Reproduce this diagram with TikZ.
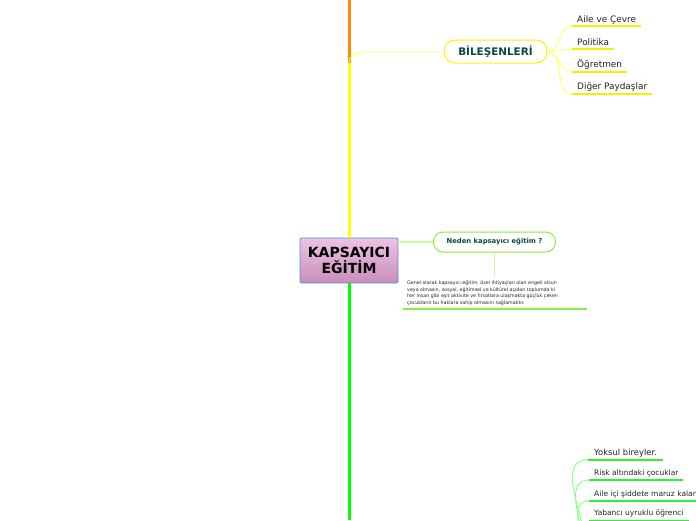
\documentclass[tikz,border=0pt]{standalone}
\usepackage{fontspec}
\setmainfont{DejaVu Sans}
\usetikzlibrary{shapes.misc}
\definecolor{trunkorange}{HTML}{FF8C00}
\definecolor{trunkyellow}{HTML}{FFFF00}
\definecolor{trunkgreen}{HTML}{00FF00}
\definecolor{ycurve}{HTML}{FFFF66}
\definecolor{yline}{HTML}{F2F200}
\definecolor{gcurve}{HTML}{88FF88}
\definecolor{gline}{HTML}{33EE33}
\definecolor{lgreen}{HTML}{CCFF99}
\definecolor{ngreen}{HTML}{88EE44}
\definecolor{dgreen}{HTML}{0B4A3A}
\definecolor{pinktop}{HTML}{EDC3E2}
\definecolor{pinkbot}{HTML}{C98EBB}
\definecolor{cblue}{HTML}{4A90D9}
\definecolor{txt}{HTML}{222222}
\tikzset{
  trunk/.style={line width=3pt},
  ycurvestyle/.style={draw=ycurve, line width=0.9pt},
  ulineY/.style={draw=yline, line width=2pt},
  gcurvestyle/.style={draw=gcurve, line width=0.9pt},
  ulineG/.style={draw=gline, line width=2pt},
  leaf/.style={anchor=base west, inner sep=0pt, text=txt, font=\fontsize{8.9}{10}\selectfont},
  gleaf/.style={anchor=base west, inner sep=0pt, text=txt, font=\fontsize{7.5}{9}\selectfont},
  central/.style={rectangle, rounded corners=1.5pt, draw=cblue, line width=0.9pt,
    top color=pinktop, bottom color=pinkbot, minimum width=98pt, minimum height=45pt,
    align=center, font=\fontsize{14}{16}\selectfont\bfseries, text=black, inner sep=0pt},
  bilbox/.style={rectangle, rounded corners=11pt, draw=yellow, line width=1pt, fill=white,
    minimum width=103pt, minimum height=23pt, font=\fontsize{10.4}{12}\selectfont\bfseries,
    text=dgreen, inner sep=0pt},
  nedenbox/.style={rectangle, rounded corners=9.5pt, draw=ngreen, line width=1pt, fill=white,
    minimum width=122pt, minimum height=20pt, font=\fontsize{6.8}{8}\selectfont\bfseries,
    text=dgreen, inner sep=0pt},
  desc/.style={anchor=north west, inner sep=0pt, align=left, text=txt,
    font=\fontsize{4.75}{6.7}\selectfont},
}
\begin{document}
\begin{tikzpicture}[x=1pt,y=-1pt]
\useasboundingbox (0,0) rectangle (696,520);
% coordinates of the trunk
\coordinate (ttop) at (349,0);
\coordinate (fork) at (349,63);
\coordinate (tbot) at (349,520);
% central node
\node[central] (c) at (349,260.5) {KAPSAYICI\\EĞİTİM};
% trunk
\draw[trunk, trunkorange] (ttop) -- (fork);
\draw[trunk, trunkyellow] (fork) -- (c.north);
\draw[trunk, trunkgreen] (c.south) -- (tbot);
% BILESENLERI
\node[bilbox] (bil) at (495.5,51.5) {BİLEŞENLERİ};
\draw[ycurvestyle] (fork) .. controls (349,55) and (356,52) .. (366,52) -- (bil.west |- 0,52);
% top leaves
\node[leaf] (a1) at (577,22.5) {Aile ve Çevre};
\node[leaf] (a2) at (577,45) {Politika};
\node[leaf] (a3) at (577,67.5) {Öğretmen};
\node[leaf] (a4) at (577,89.5) {Diğer Paydaşlar};
\coordinate (u1) at (572,26);
\coordinate (u2) at (572,49);
\coordinate (u3) at (572,71.5);
\coordinate (u4) at (572,94);
\draw[ulineY] (u1) -- ++(69,0);
\draw[ulineY] (u2) -- ++(42,0);
\draw[ulineY] (u3) -- ++(55,0);
\draw[ulineY] (u4) -- ++(80,0);
\coordinate (be) at (547,52);
\foreach \u in {u1,u2,u3,u4}
  \draw[ycurvestyle] (be) to[out=0,in=180] (\u);
% Neden
\node[nedenbox] (n) at (494.5,242) {Neden kapsayıcı eğitim ?};
\draw[draw=lgreen, line width=1.5pt] (c.east |- 0,242) -- (n.west);
\coordinate (nd) at (494.5,277);
\draw[draw=lgreen, line width=1.5pt] (n.south) -- (nd);
\node[desc] (d) at (407,280.5) {Genel olarak kapsayıcı eğitim, özel ihtiyaçları olan engeli olsun\\
veya olmasın, sosyal, eğitimsel ve kültürel açıdan toplumda ki\\
her insan gibi eşit aktivite ve fırsatlara ulaşmakta güçlük çeken\\
çocukların bu haklara sahip olmasını sağlamaktır.};
\coordinate (dl) at (403,309);
\coordinate (dr) at (587,309);
\draw[draw=ngreen, line width=1.5pt] (dl) -- (dr);
% bottom group
\node[gleaf, font=\fontsize{8.4}{10}\selectfont] (b1) at (594,455) {Yoksul bireyler.};
\node[gleaf] (b2) at (594,475.5) {Risk altındaki çocuklar};
\node[gleaf] (b3) at (594,496) {Aile içi şiddete maruz kalan};
\node[gleaf] (b4) at (594,515.5) {Yabancı uyruklu öğrenci};
\coordinate (v1) at (588,459.5);
\coordinate (v2) at (589,480);
\coordinate (v3) at (589,500.7);
\coordinate (v4) at (589,521);
\draw[ulineG] (v1) -- ++(75,0);
\draw[ulineG] (v2) -- ++(94,0);
\draw[ulineG] (v3) -- ++(110,0);
\draw[ulineG] (v4) -- ++(100,0);
\coordinate (bp) at (574,580);
\foreach \v in {v1,v2,v3,v4}
  \draw[gcurvestyle] (bp) to[out=0,in=180] (\v);
\end{tikzpicture}
\end{document}
